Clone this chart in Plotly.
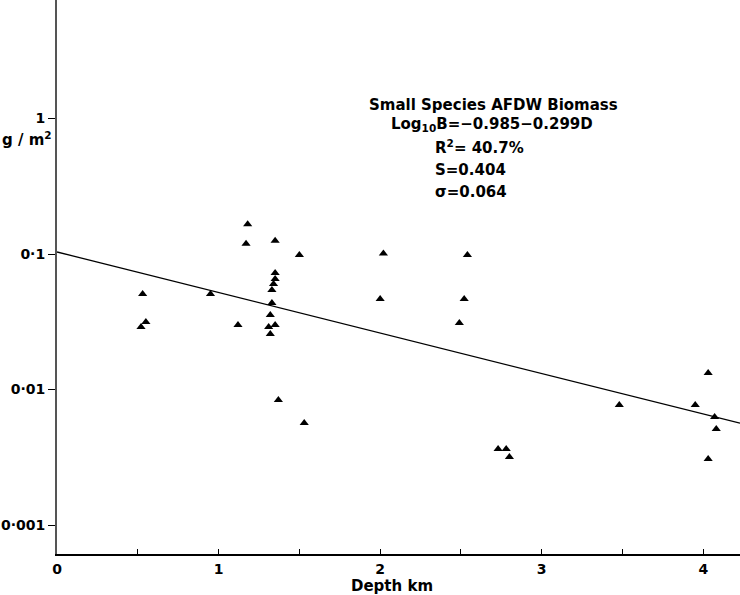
import plotly.graph_objects as go

# Data (depth in km, AFDW biomass in g/m^2)
depth_km = [0.53, 0.55, 0.52, 0.95, 1.12, 1.18, 1.17, 1.35, 1.50,
            1.35, 1.35, 1.34, 1.33, 1.33, 1.32, 1.31, 1.35, 1.32,
            1.37, 1.53, 2.02, 2.00, 2.54, 2.52, 2.49, 2.73, 2.78,
            2.80, 3.48, 3.95, 4.03, 4.07, 4.08, 4.03]
biomass = [0.0507, 0.0315, 0.0289, 0.0507, 0.0299, 0.166, 0.119, 0.125, 0.0984,
           0.0724, 0.0654, 0.0601, 0.0542, 0.0434, 0.0355, 0.0289, 0.0299, 0.0257,
           0.00837, 0.00566, 0.101, 0.0466, 0.0984, 0.0466, 0.031, 0.00364, 0.00364,
           0.00318, 0.00769, 0.00769, 0.01324, 0.00627, 0.00511, 0.00307]

# Regression stated on the chart: log10 B = -0.985 - 0.299 D
fit_intercept = -0.985
fit_slope = -0.299
fit_depth = [0.0, 4.227]
fit_biomass = [10 ** (fit_intercept + fit_slope * d) for d in fit_depth]

x_tickvals = [0, 1, 2, 3, 4]
x_ticktext = ["<b>0</b>", "<b>1</b>", "<b>2</b>", "<b>3</b>", "<b>4</b>"]
y_tickvals = [1, 0.1, 0.01, 0.001]
y_ticktext = ["<b>1</b>", "<b>0·1</b>", "<b>0·01</b>", "<b>0·001</b>"]

FONT = "DejaVu Sans, Liberation Sans, Arial, sans-serif"
W, H = 740, 595
L, R, T, B = 57, 0, 0, 41

def px(xp):
    return (xp - L) / (W - L - R)

def py(yp):
    return 1 - (yp - T) / (H - T - B)

fig = go.Figure()
fig.add_trace(go.Scatter(x=fit_depth, y=fit_biomass, mode="lines",
                         line=dict(color="black", width=1.3), showlegend=False,
                         hoverinfo="skip"))
fig.add_trace(go.Scatter(x=depth_km, y=biomass, mode="markers",
                         marker=dict(symbol="triangle-up", size=8, color="black"),
                         showlegend=False))

ann_font = dict(family=FONT, size=15, color="black")
annotations = [
    dict(text="<b>Small Species AFDW Biomass</b>", x=px(367), y=py(105), xanchor="left"),
    dict(text="<b>Log<sub>10</sub>B=−0.985−0.299D</b>", x=px(389), y=py(125), xanchor="left"),
    dict(text="<b>R<sup>2</sup>= 40.7%</b>", x=px(433), y=py(147), xanchor="left"),
    dict(text="<b>S=0.404</b>", x=px(433), y=py(170), xanchor="left"),
    dict(text="<b>σ=0.064</b>", x=px(433), y=py(192), xanchor="left"),
    dict(text="<b>g / m<sup>2</sup></b>", x=px(54), y=py(139), xanchor="right"),
    dict(text="<b>Depth km</b>", x=px(392), y=py(586), xanchor="center"),
]
for a in annotations:
    a.update(xref="paper", yref="paper", yanchor="middle", showarrow=False,
             font=ann_font)

fig.update_layout(
    width=W, height=H,
    margin=dict(l=L, r=R, t=T, b=B),
    paper_bgcolor="white", plot_bgcolor="white",
    font=dict(family=FONT, size=14, color="black"),
    annotations=annotations,
    xaxis=dict(range=[0, 4.227], tickvals=x_tickvals, ticktext=x_ticktext,
               ticks="inside", ticklen=5, tickwidth=1.3, tickcolor="black",
               minor=dict(dtick=0.5, tick0=0, ticks="inside", ticklen=5,
                          tickwidth=1.3, tickcolor="black", showgrid=False),
               showline=True, linecolor="black", linewidth=1.6,
               showgrid=False, zeroline=False, ticklabelstandoff=1,
               tickfont=dict(family=FONT, size=14, color="black")),
    yaxis=dict(type="log", range=[-3.214, 0.8745], tickvals=y_tickvals,
               ticktext=y_ticktext, ticks="outside", ticklen=7, tickwidth=1.3,
               tickcolor="black", showline=True, linecolor="#555555",
               linewidth=2, showgrid=False, zeroline=False,
               tickfont=dict(family=FONT, size=14, color="black")),
)

fig.write_html("out.html", config={"displayModeBar": False},
               post_script="document.body.style.margin='0';document.body.style.overflow='hidden';")
